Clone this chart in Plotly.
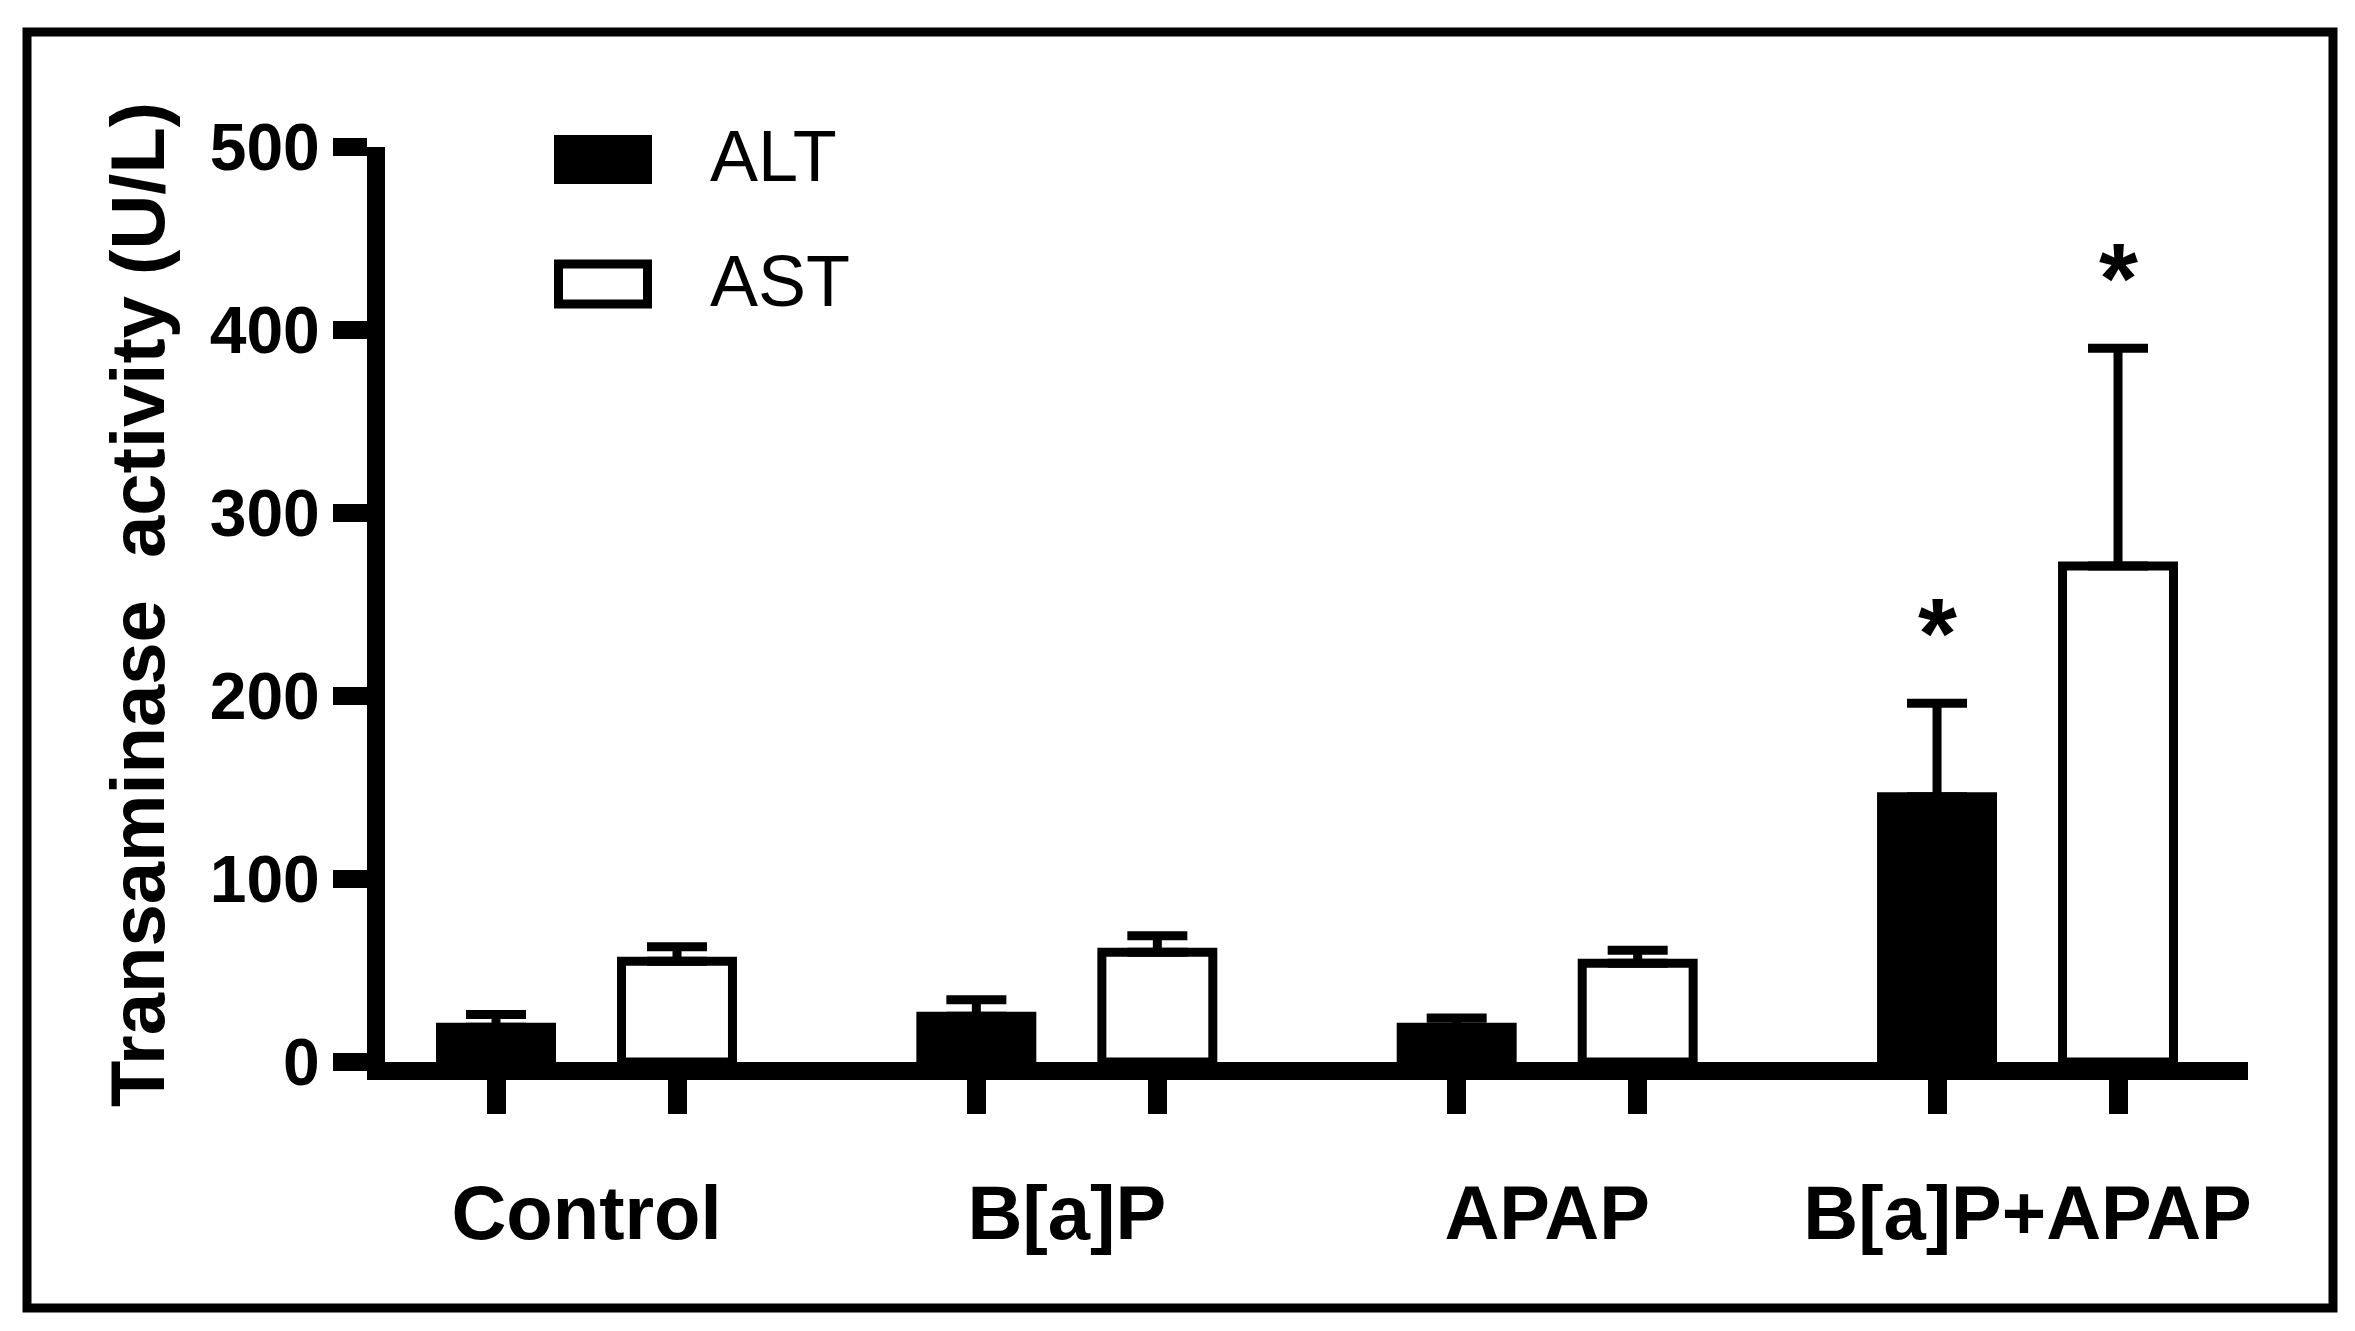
import plotly.graph_objects as go

# ---------------- data ----------------
categories = ["Control", "B[a]P", "APAP", "B[a]P+APAP"]
series_names = ["ALT", "AST"]
alt_values = [19, 25, 19, 145]
alt_errors = [7, 9, 5, 51]
ast_values = [55, 60, 54, 271]
ast_errors = [8, 9, 7, 119]
alt_significant = [False, False, False, True]
ast_significant = [False, False, False, True]
y_tick_values = [0, 100, 200, 300, 400, 500]
y_title = "Transaminase  activity (U/L)"

# ---------------- layout constants ----------------
W, H = 2355, 1331
L, R, T, B = 385, 2248, 147, 1062          # plot area in pixels
BARGAP, BARGROUPGAP = 0.2464, 0.387
FONT_BOLD = "Liberation Sans"
LW = 9


def px_x(px):
    return (px - L) / (R - L)


def px_y(py):
    return (B - py) / (B - T)


x_idx = list(range(len(categories)))
half = (1 - BARGAP) / 4  # centre offset of each bar within its group

fig = go.Figure()
fig.add_trace(go.Bar(
    name=series_names[0], x=x_idx, y=alt_values,
    marker=dict(color="black", line=dict(color="black", width=LW)),
    error_y=dict(type="data", array=alt_errors, arrayminus=[0] * len(alt_errors),
                 symmetric=False, color="black", thickness=LW, width=30),
))
fig.add_trace(go.Bar(
    name=series_names[1], x=x_idx, y=ast_values,
    marker=dict(color="white", line=dict(color="black", width=LW)),
    error_y=dict(type="data", array=ast_errors, arrayminus=[0] * len(ast_errors),
                 symmetric=False, color="black", thickness=LW, width=30),
))

# significance asterisks
annotations = []
for sig, vals, errs, sgn in [(alt_significant, alt_values, alt_errors, -1),
                             (ast_significant, ast_values, ast_errors, 1)]:
    for i, s in enumerate(sig):
        if s:
            annotations.append(dict(
                x=x_idx[i] + sgn * half, y=vals[i] + errs[i], xref="x", yref="y",
                text="*", showarrow=False, yanchor="middle", yshift=70,
                font=dict(family=FONT_BOLD, size=100, color="black", weight="bold"),
            ))

# legend (drawn as swatches + text to match the large boxes)
shapes = []
legend_rows = [(series_names[0], "black", 159.5, 156), (series_names[1], "white", 284, 281)]
for name, fill, yc, ytext in legend_rows:
    shapes.append(dict(type="rect", xref="paper", yref="paper",
                       x0=px_x(558.5), x1=px_x(647.5),
                       y0=px_y(yc + 20), y1=px_y(yc - 20),
                       fillcolor=fill, line=dict(color="black", width=LW)))
    annotations.append(dict(x=px_x(708), y=px_y(ytext), xref="paper", yref="paper",
                            xanchor="left", yanchor="middle", showarrow=False,
                            text=name, font=dict(family=FONT_BOLD, size=72, color="black")))

# outer frame
shapes.append(dict(type="rect", xref="paper", yref="paper",
                   x0=px_x(27), x1=px_x(2333), y0=px_y(1308), y1=px_y(32),
                   line=dict(color="black", width=LW), fillcolor="rgba(0,0,0,0)"))

fig.update_layout(
    width=W, height=H,
    margin=dict(l=L, r=W - R, t=T, b=H - B, pad=0),
    paper_bgcolor="white", plot_bgcolor="white",
    barmode="group", bargap=BARGAP, bargroupgap=BARGROUPGAP,
    showlegend=False,
    annotations=annotations, shapes=shapes,
    font=dict(family=FONT_BOLD, color="black"),
)

fig.update_xaxes(
    range=[-0.4195, 3.459], tickmode="array", tickvals=x_idx, ticktext=categories,
    ticks="", showgrid=False, zeroline=False,
    showline=True, linecolor="black", linewidth=18,
    tickfont=dict(family=FONT_BOLD, size=76, color="black", weight="bold"),
    ticklabelstandoff=68,
    minor=dict(tickmode="array",
               tickvals=[i + s * half for i in x_idx for s in (-1, 1)],
               ticks="outside", ticklen=34, tickwidth=19, tickcolor="black", showgrid=False),
)
fig.update_yaxes(
    range=[0, 500], tickmode="array", tickvals=y_tick_values,
    ticks="outside", ticklen=34, tickwidth=18, tickcolor="black",
    showgrid=False, zeroline=False,
    showline=True, linecolor="black", linewidth=18,
    tickfont=dict(family=FONT_BOLD, size=66, color="black", weight="bold"),
    title=dict(text=y_title, standoff=28,
               font=dict(family=FONT_BOLD, size=76, color="black", weight="bold")),
)

fig.write_html("out.html", config={"displayModeBar": False},
               post_script="document.body.style.margin='0';")
